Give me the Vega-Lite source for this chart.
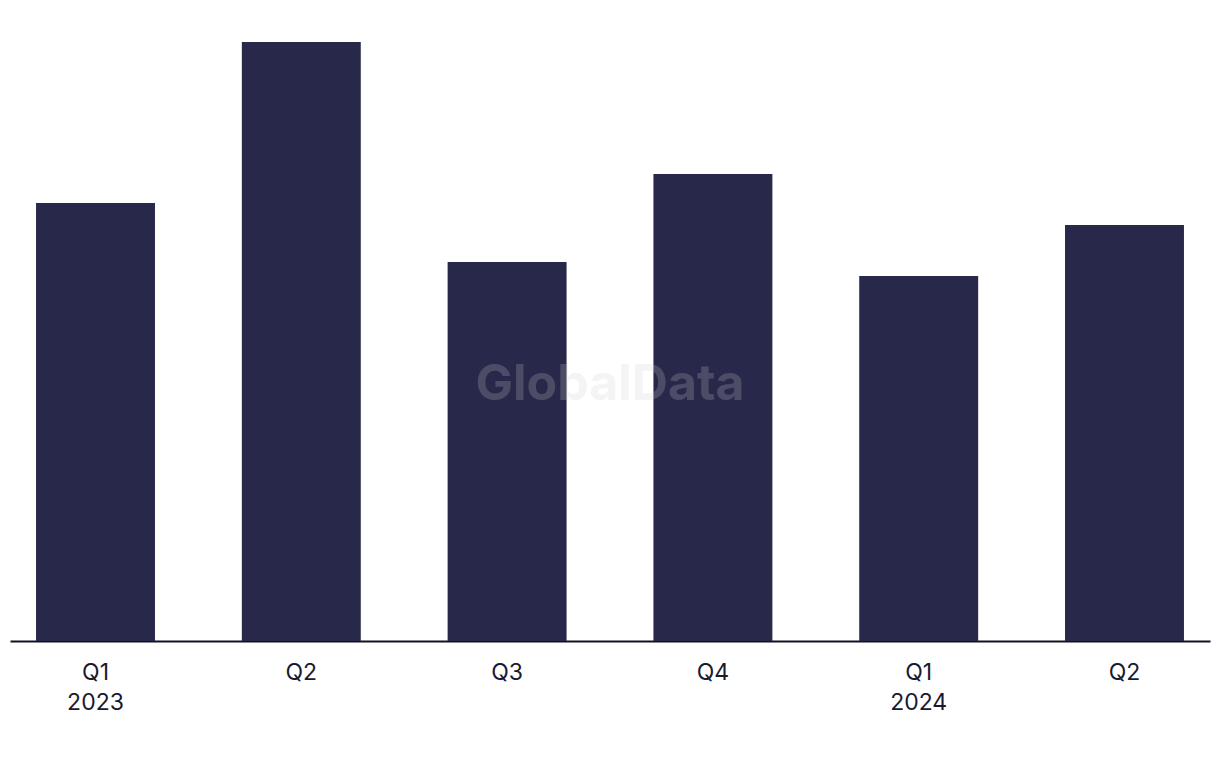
{
  "$schema": "https://vega.github.io/schema/vega-lite/v6.json",
  "width": 1200,
  "height": 641,
  "autosize": {"type": "none"},
  "padding": {"left": 10, "top": 0, "right": 10, "bottom": 127},
  "background": "white",
  "config": {"view": {"stroke": null}, "font": "Inter"},
  "data": {"values": [
    {"period": "2023 Q1", "value": 438},
    {"period": "2023 Q2", "value": 599},
    {"period": "2023 Q3", "value": 379},
    {"period": "2023 Q4", "value": 467},
    {"period": "2024 Q1", "value": 365},
    {"period": "2024 Q2", "value": 416}
  ]},
  "layer": [
    {
      "mark": {"type": "bar", "color": "#28284a"},
      "encoding": {
        "x": {
          "field": "period", "type": "nominal", "sort": null,
          "scale": {"paddingInner": 0.422, "paddingOuter": 0.1265},
          "axis": {
            "title": null, "labelAngle": 0, "ticks": false,
            "domainColor": "#111122", "domainWidth": 2,
            "labelFont": "Inter", "labelFontSize": 23, "labelFontWeight": 400, "labelColor": "#1a1a2e",
            "labelLineHeight": 30, "labelPadding": 20, "labelBaseline": "top",
            "labelExpr": "datum.value == '2023 Q1' ? ['Q1','2023'] : datum.value == '2024 Q1' ? ['Q1','2024'] : slice(datum.value, 5)"
          }
        },
        "y": {
          "field": "value", "type": "quantitative",
          "scale": {"domain": [0, 641], "nice": false, "zero": true},
          "axis": null
        }
      }
    },
    {
      "data": {"values": [{"label": "GlobalData", "pos": 256}]},
      "mark": {"type": "text", "font": "Inter", "fontSize": 50, "fontWeight": "bold", "color": "#cecece", "opacity": 0.22, "baseline": "middle", "align": "center"},
      "encoding": {
        "text": {"field": "label"},
        "y": {"field": "pos", "type": "quantitative"}
      }
    }
  ]
}
